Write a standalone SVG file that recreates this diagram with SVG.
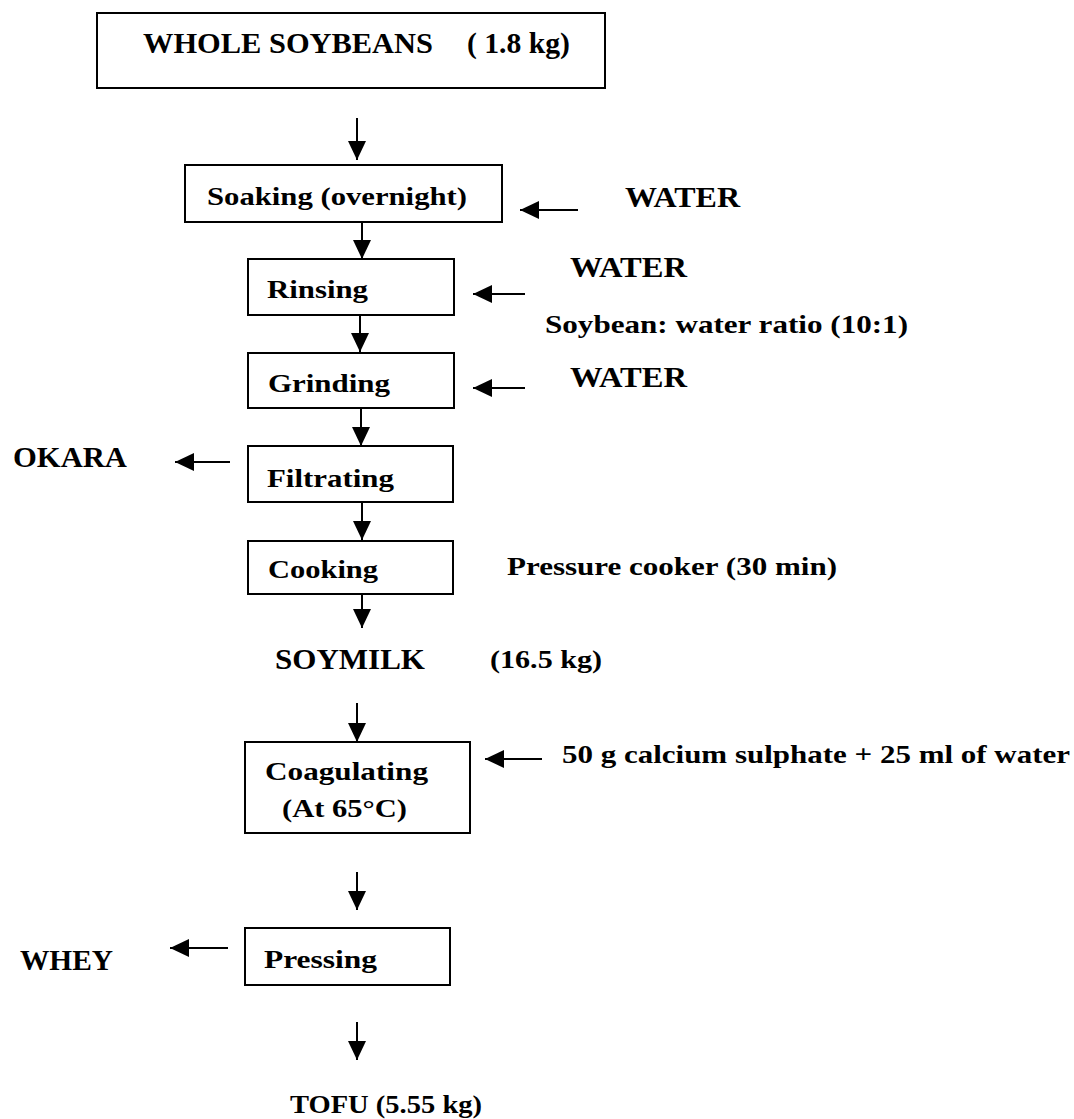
<svg xmlns="http://www.w3.org/2000/svg" width="1074" height="1119" viewBox="0 0 1074 1119">
<defs>
<marker id="ah" markerUnits="userSpaceOnUse" markerWidth="22" markerHeight="20" refX="19" refY="9" orient="auto">
<path d="M0,0 L19,9 L0,18 z" fill="#000"/>
</marker>
<style>
.box{fill:#fff;stroke:#000;stroke-width:2}
.t{font-family:"Liberation Serif","Times New Roman",serif;font-weight:bold;font-size:26px;fill:#000}
.big{font-size:29px}
.ln{stroke:#000;stroke-width:2;fill:none;marker-end:url(#ah)}
</style>
</defs>
<rect width="1074" height="1119" fill="#fff"/>
<g id="connectors">
<line class="ln" x1="357" y1="118" x2="357" y2="160"/>
<line class="ln" x1="362" y1="222" x2="362" y2="259"/>
<line class="ln" x1="360" y1="315" x2="360" y2="352"/>
<line class="ln" x1="361" y1="408" x2="361" y2="446"/>
<line class="ln" x1="362" y1="502" x2="362" y2="540"/>
<line class="ln" x1="362" y1="594" x2="362" y2="628"/>
<line class="ln" x1="357" y1="703" x2="357" y2="742"/>
<line class="ln" x1="357" y1="872" x2="357" y2="910"/>
<line class="ln" x1="357" y1="1022" x2="357" y2="1060"/>
<line class="ln" x1="578" y1="210" x2="520" y2="210"/>
<line class="ln" x1="525" y1="294" x2="473" y2="294"/>
<line class="ln" x1="525" y1="388" x2="473" y2="388"/>
<line class="ln" x1="230" y1="462" x2="175" y2="462"/>
<line class="ln" x1="542" y1="759" x2="485" y2="759"/>
<line class="ln" x1="228" y1="948" x2="170" y2="948"/>
</g>
<g id="whole-soybeans">
<rect class="box" x="97" y="13" width="508" height="75"/>
<text class="t big" x="143" y="53" textLength="290" lengthAdjust="spacingAndGlyphs">WHOLE SOYBEANS</text>
<text class="t big" x="467" y="53" textLength="103" lengthAdjust="spacingAndGlyphs">( 1.8 kg)</text>
</g>
<g id="soaking">
<rect class="box" x="185" y="165" width="317" height="57"/>
<text class="t" x="207" y="205" textLength="260" lengthAdjust="spacingAndGlyphs">Soaking (overnight)</text>
</g>
<g id="water1"><text class="t big" x="625" y="207" textLength="115" lengthAdjust="spacingAndGlyphs">WATER</text></g>
<g id="rinsing">
<rect class="box" x="248" y="259" width="206" height="56"/>
<text class="t" x="267" y="298" textLength="101" lengthAdjust="spacingAndGlyphs">Rinsing</text>
</g>
<g id="water2"><text class="t big" x="570" y="277" textLength="117" lengthAdjust="spacingAndGlyphs">WATER</text></g>
<g id="ratio"><text class="t" x="545" y="333" textLength="363" lengthAdjust="spacingAndGlyphs">Soybean: water ratio (10:1)</text></g>
<g id="grinding">
<rect class="box" x="248" y="353" width="206" height="55"/>
<text class="t" x="268" y="392" textLength="122" lengthAdjust="spacingAndGlyphs">Grinding</text>
</g>
<g id="water3"><text class="t big" x="570" y="387" textLength="117" lengthAdjust="spacingAndGlyphs">WATER</text></g>
<g id="okara"><text class="t big" x="13" y="467" textLength="114" lengthAdjust="spacingAndGlyphs">OKARA</text></g>
<g id="filtrating">
<rect class="box" x="248" y="446" width="205" height="56"/>
<text class="t" x="267" y="487" textLength="127" lengthAdjust="spacingAndGlyphs">Filtrating</text>
</g>
<g id="cooking">
<rect class="box" x="248" y="541" width="205" height="53"/>
<text class="t" x="268" y="578" textLength="110" lengthAdjust="spacingAndGlyphs">Cooking</text>
</g>
<g id="pressure"><text class="t" x="507" y="575" textLength="330" lengthAdjust="spacingAndGlyphs">Pressure cooker (30 min)</text></g>
<g id="soymilk">
<text class="t big" x="275" y="669" textLength="150" lengthAdjust="spacingAndGlyphs">SOYMILK</text>
<text class="t" x="490" y="668" textLength="112" lengthAdjust="spacingAndGlyphs">(16.5 kg)</text>
</g>
<g id="coagulating">
<rect class="box" x="245" y="742" width="225" height="91"/>
<text class="t" x="265" y="780" textLength="163" lengthAdjust="spacingAndGlyphs">Coagulating</text>
<text class="t" x="282" y="817" textLength="125" lengthAdjust="spacingAndGlyphs">(At 65°C)</text>
</g>
<g id="calcium"><text class="t" x="562" y="763" textLength="508" lengthAdjust="spacingAndGlyphs">50 g calcium sulphate + 25 ml of water</text></g>
<g id="whey"><text class="t big" x="20" y="970" textLength="93" lengthAdjust="spacingAndGlyphs">WHEY</text></g>
<g id="pressing">
<rect class="box" x="245" y="928" width="205" height="57"/>
<text class="t" x="264" y="968" textLength="113" lengthAdjust="spacingAndGlyphs">Pressing</text>
</g>
<g id="tofu"><text class="t" x="290" y="1113" textLength="192" lengthAdjust="spacingAndGlyphs">TOFU (5.55 kg)</text></g>
</svg>
